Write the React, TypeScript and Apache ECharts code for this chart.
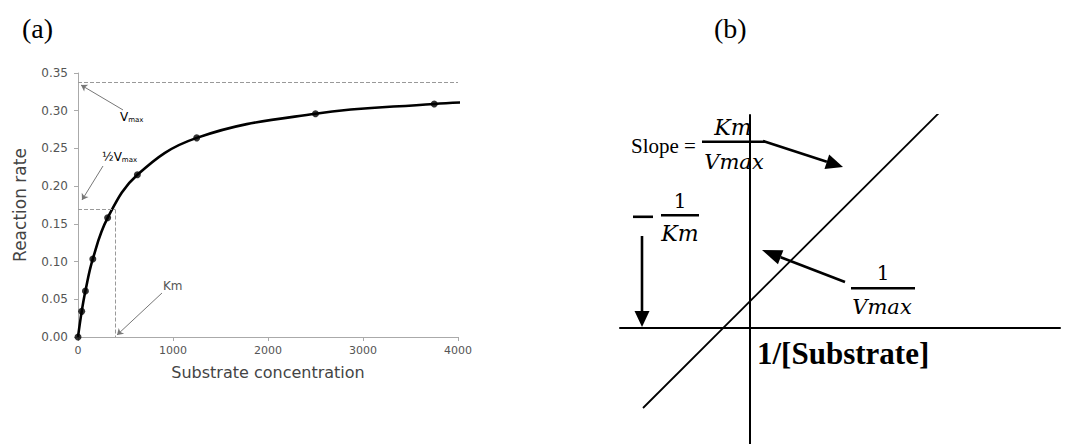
import React, { useEffect, useRef } from "react";
import * as echarts from "echarts";

// Panel (a): Michaelis-Menten data
const substrate = [0, 39, 78, 156, 312, 625, 1250, 2500, 3750];
const rate = [0, 0.034, 0.061, 0.1035, 0.158, 0.215, 0.264, 0.296, 0.309];
const curveEndX = 4040;
const curveEndY = 0.311;
const vmax = 0.338;
const halfVmax = 0.169;
const km = 390;
const yTicks = [0, 0.05, 0.1, 0.15, 0.2, 0.25, 0.3, 0.35];
const xTicks = [0, 1000, 2000, 3000, 4000];

// annotation arrows in panel (a) data space: [fromX, fromY, toX, toY]
const vmaxArrow = [474, 0.301, 32, 0.334];
const halfArrow = [263, 0.2267, 42, 0.1816];
const kmArrow = [884, 0.0583, 411, 0.0027];

// Panel (b): Lineweaver-Burk line in its own unit space
const lbX = [-1.07, 2.38];
const lbY = [-0.8, 2.64];

function arrowShapes(x1: number, y1: number, x2: number, y2: number, hl: number, hw: number, lw: number) {
  const dx = x2 - x1, dy = y2 - y1;
  const L = Math.hypot(dx, dy);
  const ux = dx / L, uy = dy / L;
  const bx = x2 - ux * hl, by = y2 - uy * hl;
  const px = -uy, py = ux;
  return [
    { type: "line", shape: { x1, y1, x2: bx, y2: by }, style: { stroke: "#000", lineWidth: lw } },
    {
      type: "polygon",
      shape: { points: [[x2, y2], [bx + px * hw / 2, by + py * hw / 2], [bx - px * hw / 2, by - py * hw / 2]] },
      style: { fill: "#000" },
    },
  ];
}

export default function App() {
  const ref = useRef<HTMLDivElement>(null);
  useEffect(() => {
    if (!ref.current) return;
    const chart = echarts.init(ref.current, null, { renderer: "svg" });
    const sans = "DejaVu Sans";
    const serif = "Liberation Serif";
    const mathF = "DejaVu Serif";
    const annoLine = (a: number[]) => [
      { coord: [a[0], a[1]], symbol: "none" },
      { coord: [a[2], a[3]], symbol: "arrow", symbolSize: 6 },
    ];
    const dashStyle = { type: "dashed", color: "#999", width: 1 };
    const arrowStyle = { type: "solid", color: "#777", width: 1 };
    const math = (text: string, x: number, y: number, size = 21, italic = true) => ({
      type: "text",
      x,
      y,
      style: {
        text,
        fill: "#000",
        font: `${italic ? "italic " : ""}${size}px "${mathF}"`,
        align: "center",
        verticalAlign: "middle",
      },
    });
    const bar = (x: number, y: number, w: number, h = 2.6) => ({
      type: "rect",
      shape: { x, y, width: w, height: h },
      style: { fill: "#000" },
    });
    const subRich = {
      v: { fontFamily: sans, fontSize: 12, color: "#555" },
      s: { fontFamily: sans, fontSize: 7, color: "#555", verticalAlign: "bottom", padding: [4, 0, 0, 0] },
    };
    const option: any = {
      animation: false,
      backgroundColor: "#fff",
      grid: [
        { left: 78, top: 73, width: 380, height: 264 },
        { left: 620, top: 115, width: 440, height: 329 },
      ],
      xAxis: [
        {
          type: "value",
          gridIndex: 0,
          min: xTicks[0],
          max: xTicks[xTicks.length - 1],
          interval: 1000,
          name: "Substrate concentration",
          nameLocation: "middle",
          nameGap: 27,
          nameTextStyle: { fontFamily: sans, fontSize: 16, color: "#444" },
          axisLine: { show: true, lineStyle: { color: "#aaa", width: 1 } },
          axisTick: { show: true, length: 4, lineStyle: { color: "#aaa" } },
          axisLabel: { fontFamily: sans, fontSize: 11, color: "#555", margin: 8, formatter: (v: number) => String(v) },
          splitLine: { show: false },
        },
        {
          type: "value",
          gridIndex: 1,
          min: -1.3,
          max: 3.1,
          axisLine: { show: true, onZero: true, lineStyle: { color: "#000", width: 2 } },
          axisTick: { show: false },
          axisLabel: { show: false },
          splitLine: { show: false },
        },
      ],
      yAxis: [
        {
          type: "value",
          gridIndex: 0,
          min: yTicks[0],
          max: yTicks[yTicks.length - 1],
          interval: 0.05,
          name: "Reaction rate",
          nameLocation: "middle",
          nameGap: 50,
          nameTextStyle: { fontFamily: sans, fontSize: 17, color: "#444" },
          axisLine: { show: true, lineStyle: { color: "#aaa", width: 1 } },
          axisTick: { show: true, length: 4, lineStyle: { color: "#aaa" } },
          axisLabel: { fontFamily: sans, fontSize: 12, color: "#555", margin: 10, formatter: (v: number) => v.toFixed(2) },
          splitLine: { show: false },
        },
        {
          type: "value",
          gridIndex: 1,
          min: -1.16,
          max: 2.13,
          axisLine: { show: true, onZero: true, lineStyle: { color: "#000", width: 2 } },
          axisTick: { show: false },
          axisLabel: { show: false },
          splitLine: { show: false },
        },
      ],
      series: [
        {
          type: "line",
          xAxisIndex: 0,
          yAxisIndex: 0,
          data: [...substrate.map((x, i) => [x, rate[i]]), [curveEndX, curveEndY]],
          smooth: 0.4,
          showSymbol: false,
          clip: false,
          lineStyle: { color: "#000", width: 2.6 },
          z: 3,
        },
        {
          type: "scatter",
          xAxisIndex: 0,
          yAxisIndex: 0,
          data: substrate.map((x, i) => [x, rate[i]]),
          symbolSize: 7,
          itemStyle: { color: "#000" },
          z: 4,
          markLine: {
            silent: true,
            symbol: ["none", "none"],
            label: { show: false },
            data: [
              [{ coord: [0, vmax], lineStyle: dashStyle }, { coord: [4000, vmax] }],
              [{ coord: [0, halfVmax], lineStyle: dashStyle }, { coord: [km, halfVmax] }],
              [{ coord: [km, halfVmax], lineStyle: dashStyle }, { coord: [km, 0] }],
              annoLine(vmaxArrow).map((d, i) => (i === 0 ? { ...d, lineStyle: arrowStyle } : d)),
              annoLine(halfArrow).map((d, i) => (i === 0 ? { ...d, lineStyle: arrowStyle } : d)),
              annoLine(kmArrow).map((d, i) => (i === 0 ? { ...d, lineStyle: arrowStyle } : d)),
            ],
          },
        },
        {
          type: "line",
          xAxisIndex: 1,
          yAxisIndex: 1,
          data: lbX.map((x, i) => [x, lbY[i]]),
          showSymbol: false,
          lineStyle: { color: "#000", width: 1.8 },
        },
      ],
      graphic: [
        { type: "text", x: 22, y: 28, style: { text: "(a)", font: `28px "${serif}"`, fill: "#000", align: "left", verticalAlign: "middle" } },
        { type: "text", x: 714, y: 28, style: { text: "(b)", font: `28px "${serif}"`, fill: "#000", align: "left", verticalAlign: "middle" } },
        { type: "text", x: 120, y: 117, style: { text: "{v|V}{s|max}", align: "left", verticalAlign: "middle", rich: subRich } },
        { type: "text", x: 102, y: 157, style: { text: "{v|½V}{s|max}", align: "left", verticalAlign: "middle", rich: subRich } },
        { type: "text", x: 163, y: 286, style: { text: "Km", font: `12px "${sans}"`, fill: "#555", align: "left", verticalAlign: "middle" } },
        // panel (b)
        { type: "text", x: 631, y: 146, style: { text: "Slope =", font: `21px "${serif}"`, fill: "#000", align: "left", verticalAlign: "middle" } },
        math("Km", 733, 127, 22),
        bar(702, 140.5, 63),
        math("Vmax", 734, 162),
        ...arrowShapes(763, 141, 843, 167, 17, 15, 2.6),
        bar(633, 215.5, 20),
        math("1", 680, 201, 20, false),
        bar(661, 214, 38),
        math("Km", 680, 233, 22),
        ...arrowShapes(642, 236, 642, 327, 16, 15, 2.6),
        math("1", 883, 273, 20, false),
        bar(851, 287, 64),
        math("Vmax", 882, 307),
        ...arrowShapes(845, 282, 762, 250, 20, 15, 2.6),
        { type: "text", x: 757, y: 353, style: { text: "1/[Substrate]", font: `bold 31px "${serif}"`, fill: "#000", align: "left", verticalAlign: "middle" } },
      ],
    };
    chart.setOption(option);
    return () => chart.dispose();
  }, []);
  return <div ref={ref} style={{ position: "absolute", left: 0, top: 0, width: 1076, height: 444, background: "#fff" }} />;
}
